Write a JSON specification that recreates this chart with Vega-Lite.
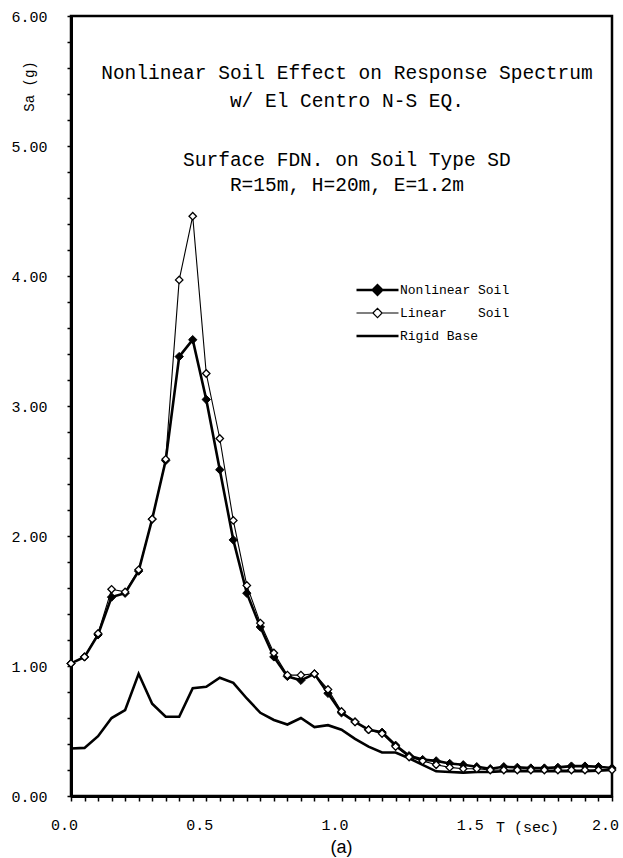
{
  "$schema": "https://vega.github.io/schema/vega-lite/v6.json",
  "width": 541,
  "height": 780,
  "autosize": {"type": "none"},
  "padding": {"left": 71, "top": 16, "right": 11, "bottom": 62},
  "background": "white",
  "config": {
    "view": {"stroke": "black", "strokeWidth": 2.5},
    "font": "Liberation Mono"
  },
  "title": {
    "text": "(a)",
    "orient": "bottom",
    "font": "Liberation Sans",
    "fontSize": 18,
    "fontWeight": "normal",
    "color": "black",
    "anchor": "middle",
    "offset": 5
  },
  "data": {
    "values": [
      {"T": 0.00, "N": 1.02, "L": 1.02, "R": 0.365},
      {"T": 0.05, "N": 1.07, "L": 1.07, "R": 0.37},
      {"T": 0.10, "N": 1.24, "L": 1.25, "R": 0.46},
      {"T": 0.15, "N": 1.53, "L": 1.59, "R": 0.60},
      {"T": 0.20, "N": 1.56, "L": 1.57, "R": 0.66},
      {"T": 0.25, "N": 1.73, "L": 1.74, "R": 0.94},
      {"T": 0.30, "N": 2.13, "L": 2.13, "R": 0.71},
      {"T": 0.35, "N": 2.58, "L": 2.59, "R": 0.61},
      {"T": 0.40, "N": 3.38, "L": 3.97, "R": 0.61},
      {"T": 0.45, "N": 3.51, "L": 4.46, "R": 0.83},
      {"T": 0.50, "N": 3.05, "L": 3.25, "R": 0.84},
      {"T": 0.55, "N": 2.51, "L": 2.75, "R": 0.91},
      {"T": 0.60, "N": 1.97, "L": 2.12, "R": 0.87},
      {"T": 0.65, "N": 1.56, "L": 1.62, "R": 0.75},
      {"T": 0.70, "N": 1.30, "L": 1.33, "R": 0.64},
      {"T": 0.75, "N": 1.07, "L": 1.10, "R": 0.585},
      {"T": 0.80, "N": 0.92, "L": 0.93, "R": 0.55},
      {"T": 0.85, "N": 0.89, "L": 0.93, "R": 0.60},
      {"T": 0.90, "N": 0.94, "L": 0.94, "R": 0.53},
      {"T": 0.95, "N": 0.79, "L": 0.82, "R": 0.545},
      {"T": 1.00, "N": 0.64, "L": 0.65, "R": 0.51},
      {"T": 1.05, "N": 0.57, "L": 0.57, "R": 0.44},
      {"T": 1.10, "N": 0.51, "L": 0.51, "R": 0.38},
      {"T": 1.15, "N": 0.49, "L": 0.48, "R": 0.335},
      {"T": 1.20, "N": 0.39, "L": 0.38, "R": 0.335},
      {"T": 1.25, "N": 0.31, "L": 0.30, "R": 0.29},
      {"T": 1.30, "N": 0.28, "L": 0.27, "R": 0.24},
      {"T": 1.35, "N": 0.27, "L": 0.24, "R": 0.19},
      {"T": 1.40, "N": 0.25, "L": 0.22, "R": 0.185},
      {"T": 1.45, "N": 0.24, "L": 0.21, "R": 0.18},
      {"T": 1.50, "N": 0.225, "L": 0.21, "R": 0.185},
      {"T": 1.55, "N": 0.21, "L": 0.20, "R": 0.185},
      {"T": 1.60, "N": 0.225, "L": 0.20, "R": 0.19},
      {"T": 1.65, "N": 0.22, "L": 0.20, "R": 0.19},
      {"T": 1.70, "N": 0.215, "L": 0.20, "R": 0.19},
      {"T": 1.75, "N": 0.215, "L": 0.20, "R": 0.19},
      {"T": 1.80, "N": 0.22, "L": 0.20, "R": 0.19},
      {"T": 1.85, "N": 0.23, "L": 0.20, "R": 0.19},
      {"T": 1.90, "N": 0.23, "L": 0.20, "R": 0.19},
      {"T": 1.95, "N": 0.225, "L": 0.20, "R": 0.195},
      {"T": 2.00, "N": 0.215, "L": 0.20, "R": 0.20}
    ]
  },
  "transform": [{"fold": ["N", "L", "R"], "as": ["key", "Sa"]}],
  "encoding": {
    "x": {
      "field": "T",
      "type": "quantitative",
      "scale": {"domain": [0, 2], "nice": false, "zero": false},
      "axis": {
        "title": "T (sec)",
        "values": [0,0.05,0.1,0.15,0.2,0.25,0.3,0.35,0.4,0.45,0.5,0.55,0.6,0.65,0.7,0.75,0.8,0.85,0.9,0.95,1,1.05,1.1,1.15,1.2,1.25,1.3,1.35,1.4,1.45,1.5,1.55,1.6,1.65,1.7,1.75,1.8,1.85,1.9,1.95,2],
        "labelExpr": "abs(datum.value*2 - round(datum.value*2)) < 0.001 ? format(datum.value, '.1f') : ''",
        "labelOverlap": false,
        "labelFlush": false,
        "labelFont": "Liberation Mono",
        "labelFontSize": 15,
        "labelColor": "black",
        "labelPadding": 16,
        "labelOffset": -7,
        "tickSize": 5,
        "tickWidth": 1.5,
        "tickColor": "black",
        "domainColor": "black",
        "domainWidth": 3,
        "grid": false,
        "titleFont": "Liberation Mono",
        "titleFontSize": 15,
        "titleFontWeight": "normal",
        "titleColor": "black",
        "titleX": 456,
        "titleY": 30,
        "titleAlign": "center",
        "titleBaseline": "middle"
      }
    },
    "y": {
      "field": "Sa",
      "type": "quantitative",
      "scale": {"domain": [0, 6], "nice": false},
      "axis": {
        "title": "Sa (g)",
        "values": [0,0.2,0.4,0.6,0.8,1,1.2,1.4,1.6,1.8,2,2.2,2.4,2.6,2.8,3,3.2,3.4,3.6,3.8,4,4.2,4.4,4.6,4.8,5,5.2,5.4,5.6,5.8,6],
        "labelExpr": "abs(datum.value - round(datum.value)) < 0.001 ? format(datum.value, '.2f') : ''",
        "labelOverlap": false,
        "labelFlush": false,
        "labelFont": "Liberation Mono",
        "labelFontSize": 15,
        "labelColor": "black",
        "labelPadding": 20,
        "tickSize": 4,
        "tickWidth": 1.5,
        "tickColor": "black",
        "domainColor": "black",
        "domainWidth": 3,
        "grid": false,
        "titleFont": "Liberation Mono",
        "titleFontSize": 14,
        "titleFontWeight": "normal",
        "titleColor": "black",
        "titleX": -42,
        "titleY": 70,
        "titleAngle": -90,
        "titleAlign": "center",
        "titleBaseline": "middle"
      }
    }
  },
  "layer": [
    {
      "transform": [{"filter": "datum.key == 'R'"}],
      "mark": {"type": "line", "color": "black", "strokeWidth": 2.6}
    },
    {
      "transform": [{"filter": "datum.key == 'L'"}],
      "mark": {"type": "line", "color": "black", "strokeWidth": 1.1}
    },
    {
      "transform": [{"filter": "datum.key == 'N'"}],
      "mark": {"type": "line", "color": "black", "strokeWidth": 2.6}
    },
    {
      "transform": [{"filter": "datum.key == 'N'"}],
      "mark": {"type": "point", "shape": "diamond", "filled": true, "fill": "black", "stroke": "black", "strokeWidth": 1, "size": 70, "opacity": 1}
    },
    {
      "transform": [{"filter": "datum.key == 'L'"}],
      "mark": {"type": "point", "shape": "diamond", "filled": true, "fill": "white", "stroke": "black", "strokeWidth": 1.3, "size": 55, "opacity": 1}
    },
    {
      "transform": [{"filter": "datum.key == 'none'"}],
      "mark": {"type": "point", "filled": true, "opacity": 1},
      "encoding": {
        "shape": {
          "field": "key",
          "type": "nominal",
          "scale": {
            "domain": ["N", "L", "R"],
            "range": [
              "M-1,0L-0.22,0M0.22,0L1,0M-0.22,0L0,-0.22L0.22,0L0,0.22Z",
              "M-1,0L-0.22,0M0.22,0L1,0M-0.22,0L0,-0.22L0.22,0L0,0.22Z",
              "M-1,0L1,0"
            ]
          },
          "legend": {
            "orient": "none",
            "legendX": 284,
            "legendY": 266,
            "title": null,
            "labelFont": "Liberation Mono",
            "labelFontSize": 13,
            "labelColor": "black",
            "labelOffset": 0,
            "symbolSize": 1764,
            "symbolOpacity": 1,
            "clipHeight": 16,
            "rowPadding": 7,
            "padding": 0,
            "labelExpr": "datum.value == 'N' ? 'Nonlinear Soil' : datum.value == 'L' ? 'Linear\u00a0\u00a0\u00a0\u00a0Soil' : 'Rigid Base'"
          }
        },
        "fill": {
          "field": "key",
          "type": "nominal",
          "scale": {"domain": ["N", "L", "R"], "range": ["black", "white", "black"]}
        },
        "stroke": {
          "field": "key",
          "type": "nominal",
          "scale": {"domain": ["N", "L", "R"], "range": ["black", "black", "black"]}
        },
        "strokeWidth": {
          "field": "key",
          "type": "nominal",
          "scale": {"type": "ordinal", "domain": ["N", "L", "R"], "range": [2.6, 1.2, 2.6]}
        }
      }
    },
    {
      "transform": [{"filter": "datum.T == 0 && datum.key == 'N'"}],
      "mark": {"type": "text", "font": "Liberation Mono", "fontSize": 19.5, "color": "black", "baseline": "middle", "align": "center"},
      "encoding": {"x": {"datum": 1.02}, "y": {"datum": 5.56}, "text": {"value": "Nonlinear Soil Effect on Response Spectrum"}}
    },
    {
      "transform": [{"filter": "datum.T == 0 && datum.key == 'N'"}],
      "mark": {"type": "text", "font": "Liberation Mono", "fontSize": 19.5, "color": "black", "baseline": "middle", "align": "center"},
      "encoding": {"x": {"datum": 1.02}, "y": {"datum": 5.35}, "text": {"value": "w/ El Centro N-S EQ."}}
    },
    {
      "transform": [{"filter": "datum.T == 0 && datum.key == 'N'"}],
      "mark": {"type": "text", "font": "Liberation Mono", "fontSize": 19.5, "color": "black", "baseline": "middle", "align": "center"},
      "encoding": {"x": {"datum": 1.02}, "y": {"datum": 4.89}, "text": {"value": "Surface FDN. on Soil Type SD"}}
    },
    {
      "transform": [{"filter": "datum.T == 0 && datum.key == 'N'"}],
      "mark": {"type": "text", "font": "Liberation Mono", "fontSize": 19.5, "color": "black", "baseline": "middle", "align": "center"},
      "encoding": {"x": {"datum": 1.02}, "y": {"datum": 4.70}, "text": {"value": "R=15m, H=20m, E=1.2m"}}
    }
  ]
}
